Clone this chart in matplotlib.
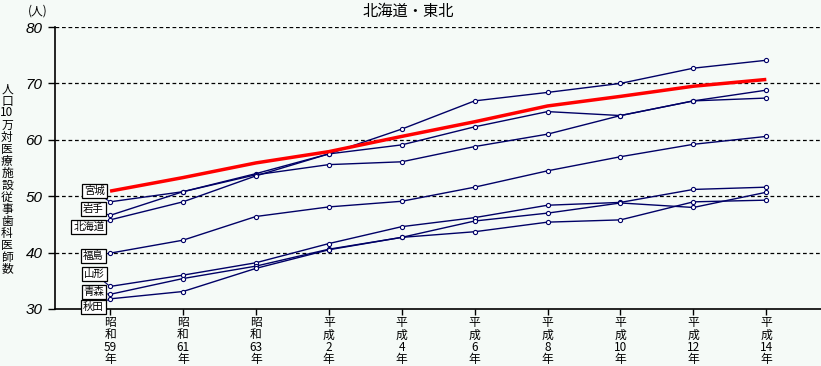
import matplotlib.pyplot as plt

plt.rcParams['font.family'] = ['Noto Sans CJK JP', 'DejaVu Sans']

# 年次 (昭和59年〜平成14年)
nendo = ["昭\n和\n59\n年", "昭\n和\n61\n年", "昭\n和\n63\n年", "平\n成\n2\n年", "平\n成\n4\n年",
         "平\n成\n6\n年", "平\n成\n8\n年", "平\n成\n10\n年", "平\n成\n12\n年", "平\n成\n14\n年"]

# 全国 (赤の太線)
zenkoku = [50.9, 53.3, 55.9, 57.9, 60.6, 63.2, 66.0, 67.7, 69.5, 70.7]

# 各道県
miyagi = [49.0, 50.8, 54.0, 57.5, 59.1, 62.3, 65.0, 64.3, 66.9, 67.4]
iwate = [46.6, 50.8, 53.8, 55.6, 56.1, 58.8, 61.0, 64.3, 66.9, 68.8]
hokkaido = [45.8, 49.0, 53.6, 57.5, 61.9, 66.9, 68.4, 70.0, 72.7, 74.1]
fukushima = [39.9, 42.2, 46.4, 48.1, 49.1, 51.6, 54.5, 57.0, 59.2, 60.6]
yamagata = [34.0, 36.0, 38.2, 41.6, 44.6, 46.2, 48.4, 48.9, 51.2, 51.6]
aomori = [32.6, 35.4, 37.6, 40.6, 42.7, 45.6, 47.0, 48.8, 48.0, 50.7]
akita = [31.8, 33.1, 37.2, 40.5, 42.7, 43.7, 45.4, 45.8, 49.0, 49.3]

ken = {"宮城": miyagi, "岩手": iwate, "北海道": hokkaido, "福島": fukushima,
       "山形": yamagata, "青森": aomori, "秋田": akita}

# ラベルの置き場所 (左端)
label_pos = {"宮城": (-0.21, 50.9), "岩手": (-0.23, 47.7), "北海道": (-0.29, 44.5),
             "福島": (-0.23, 39.4), "山形": (-0.21, 36.2), "青森": (-0.22, 33.0),
             "秋田": (-0.23, 30.35)}

bg = "#f5faf7"
navy = "#000066"

fig = plt.figure(figsize=(8.21, 3.66), dpi=100, facecolor=bg)
ax = fig.add_axes([55 / 821, 1 - 309 / 366, 1 - 55 / 821, (309 - 27) / 366])
ax.set_facecolor(bg)

x = list(range(len(nendo)))

for name, vals in ken.items():
    ax.plot(x, vals, color=navy, lw=1.0, marker="o", ms=3.0,
            mfc="white", mec=navy, mew=0.8, zorder=3, clip_on=False)
    lx, ly = label_pos[name]
    ax.annotate(name, xy=(0, vals[0]), xytext=(lx, ly), fontsize=7.5,
                ha="center", va="center", annotation_clip=False, zorder=5,
                bbox=dict(boxstyle="square,pad=0.18", fc="white", ec="black", lw=0.9),
                arrowprops=dict(arrowstyle="-", color=navy, lw=0.8,
                                shrinkA=0, shrinkB=1.5))

ax.plot(x, zenkoku, color="#ff0000", lw=2.5, zorder=4, solid_capstyle="butt")

ax.set_xlim(-0.755, 9.75)
ax.set_ylim(30, 80)
ax.set_yticks([30, 40, 50, 60, 70, 80])
ax.set_yticklabels(["30", "40", "50", "60", "70", "80"],
                   family="Liberation Sans", style="italic", fontsize=11)
ax.set_xticks(x)
ax.set_xticklabels(nendo, fontsize=8.5, linespacing=0.95, va="top")

ax.tick_params(axis="y", length=5, width=1, pad=4, color="black")
ax.tick_params(axis="x", length=4, width=1, pad=1, color="black")

# 破線の目盛線
for v in [40, 50, 60, 70, 80]:
    ax.axhline(v, color="black", lw=0.9, ls=(0, (3, 2.2)), zorder=1)

for s in ["top", "right"]:
    ax.spines[s].set_visible(False)
ax.spines["left"].set_linewidth(1.2)
ax.spines["bottom"].set_linewidth(1.2)

fig.text(408 / 821, 1 - 11 / 366, "北海道・東北", ha="center", va="center", fontsize=11)
fig.text(38 / 821, 1 - 11 / 366, "(人)", ha="center", va="center", fontsize=8.5)

ylab = "\n".join(["人", "口", "10", "万", "対", "医", "療", "施", "設", "従", "事", "歯", "科", "医", "師", "数"])
fig.text(7 / 821, 1 - 179 / 366, ylab, ha="center", va="center", fontsize=8.5, linespacing=0.9)

fig.savefig("out.png", dpi=100, facecolor=bg)
